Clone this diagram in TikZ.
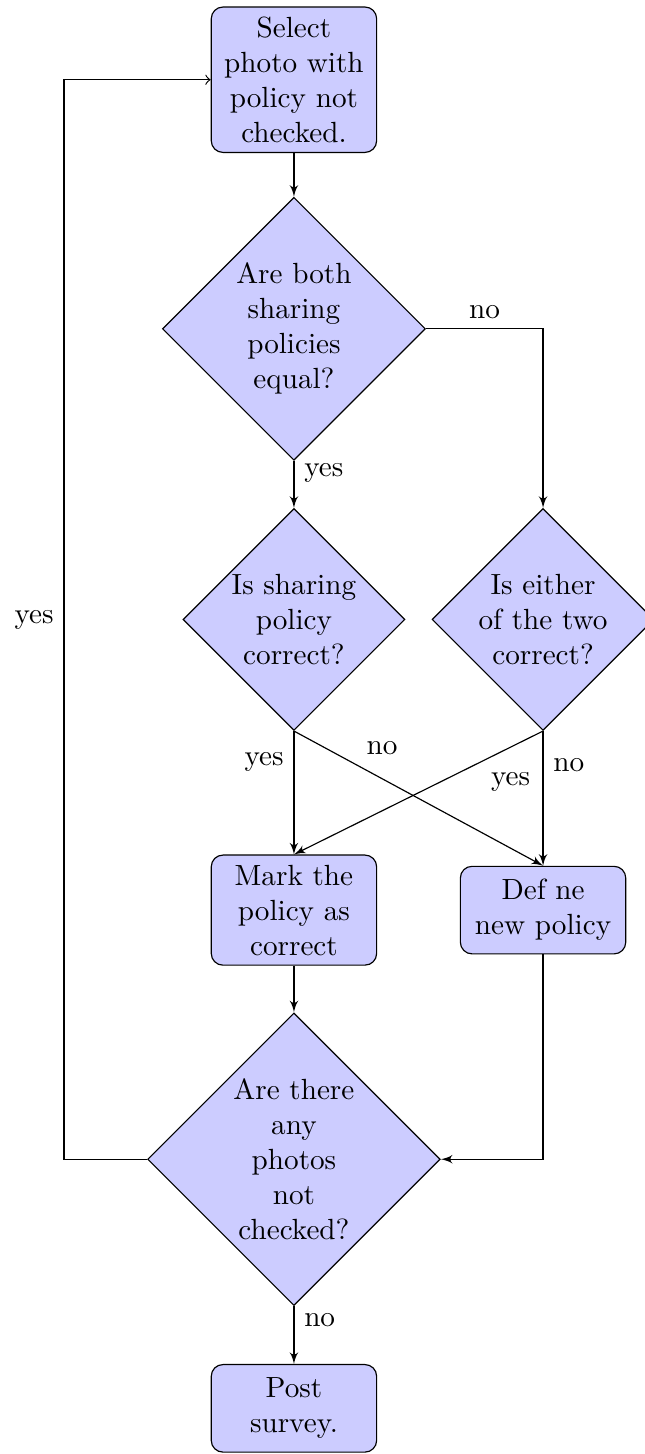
\documentclass[tikz,border=0pt]{standalone}
\usetikzlibrary{arrows,shapes,positioning}
\begin{document}
\begin{tikzpicture}[
	decision/.style={diamond, draw, fill=blue!20, text width=4.5em, align=flush center, inner sep=0pt},
	block/.style={rectangle, draw, fill=blue!20, text width=5em, align=flush center, rounded corners, minimum height=3em},
	line/.style={draw, -latex'}]
	\useasboundingbox (-3.54,0.96) rectangle (4.22,-16.55);
	
	% Main column
	\node[block] (select) at (0,0) {Select photo with policy not checked.};
	\node[decision] (equal) at (0,-3) {Are both sharing policies equal?};
	\node[decision] (correct) at (0,-6.5) {Is sharing policy correct?};
	\node[block] (mark) at (0,-10) {Mark the policy as correct};
	\node[decision] (remain) at (0,-13) {Are there any photos not checked?};
	\node[block] (survey) at (0,-16) {Post survey.};
	
	% Right column
	\node[decision] (either) at (3,-6.5) {Is either of the two correct?};
	\node[block] (define) at (3,-10) {Def ne\\ new policy};
	
	% Loop back
	\coordinate (loop) at (-2.77,-13);
	
	% Connectors
	\path[line] (select) -- (equal);
	\path[line] (equal) -- node[near start, right] {yes} (correct);
	\path[line] (equal) -| node[near start, above] {no} (either);
	\path[line] (correct.south) -- node[near start, left] {yes} (mark.north);
	\path[line] (correct.south) -- node[near start, above right] {no} (define.north);
	\path[line] (either.south) -- node[near start, below right] {yes} (mark.north);
	\path[line] (either.south) -- node[near start, right] {no} (define.north);
	\path[line] (mark) -- (remain);
	\path[line] (define) |- (remain);
	\path[line] (remain) -- node[near start, right] {no} (survey);
	\draw[->] (remain) -- (loop) |- node[near start, left] {yes} (select);
\end{tikzpicture}
\end{document}
